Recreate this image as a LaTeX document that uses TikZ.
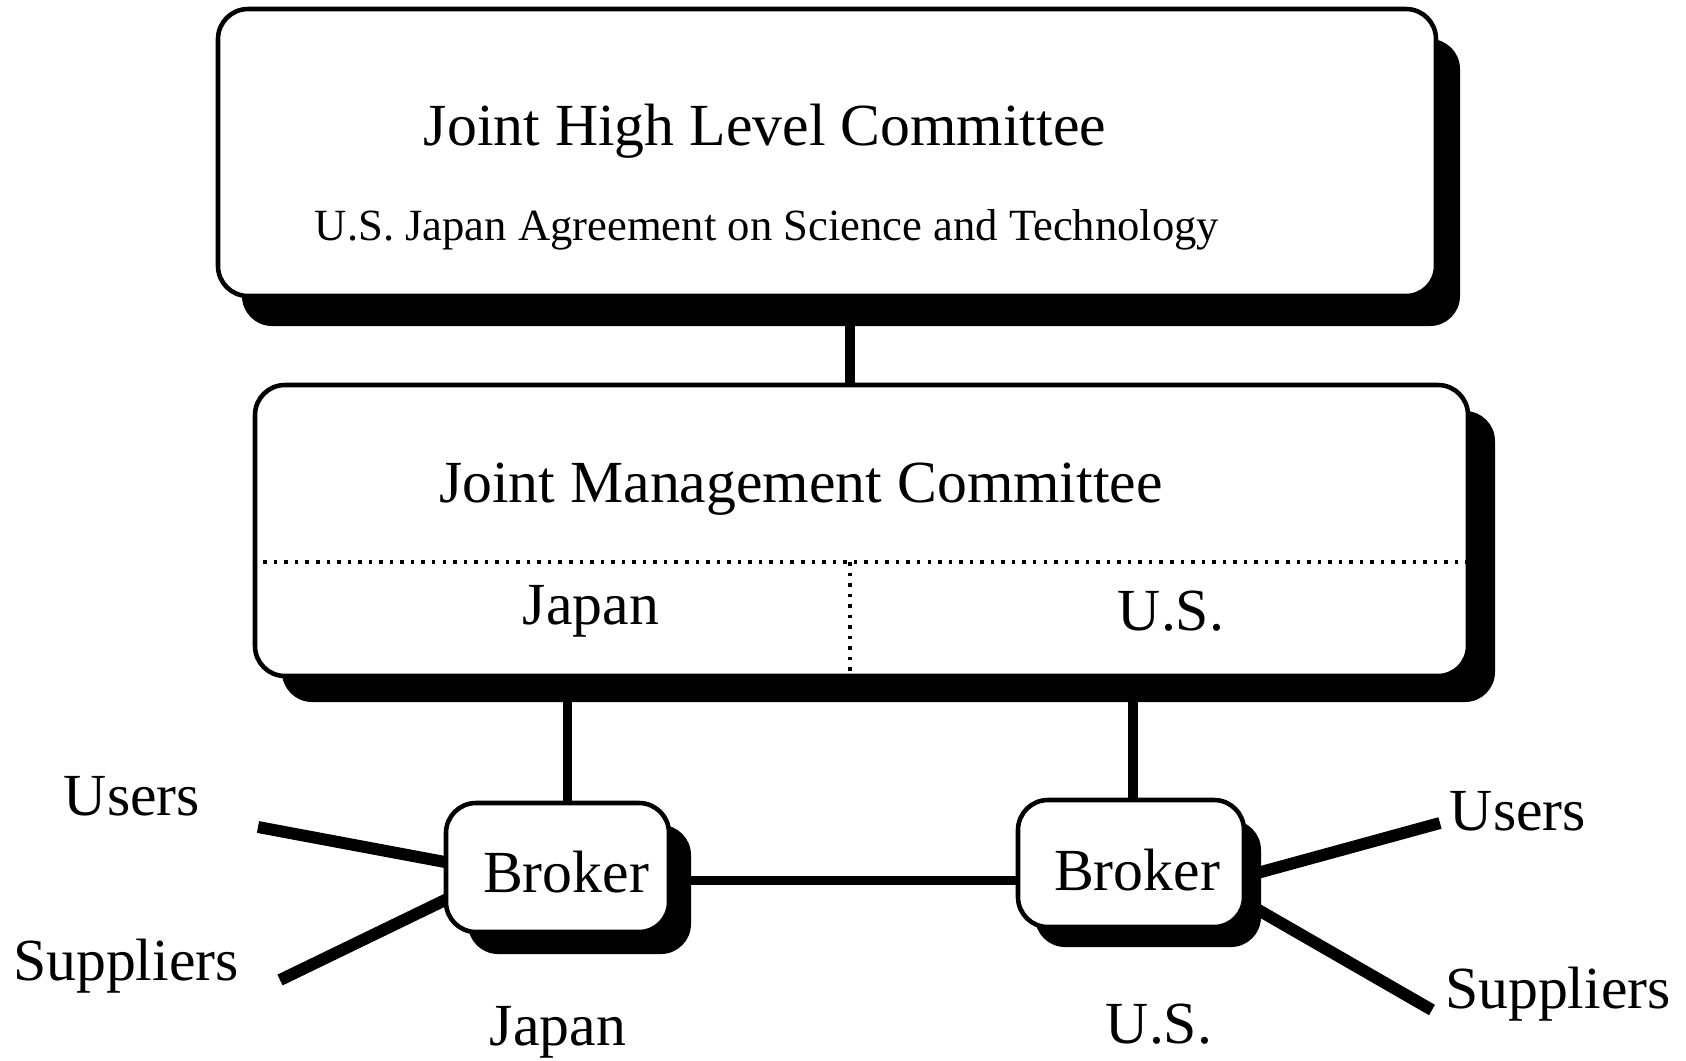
\documentclass[tikz,border=0pt]{standalone}
\usepackage{fontspec}
\setmainfont{Liberation Serif}
\usetikzlibrary{shadows,backgrounds}
\begin{document}
\begin{tikzpicture}[x=0.1mm,y=-0.1mm,
  box/.style={draw=black, line width=1.3pt, fill=white, rounded corners=3mm, inner sep=0pt},
  lbl/.style={anchor=base, inner sep=0pt, font=\fontsize{17pt}{20pt}\selectfont},
  conn/.style={line width=2.6pt},
  link/.style={line width=2.8pt},
  spoke/.style={line width=3.4pt},
  divider/.style={dotted, line width=1pt}
]
\useasboundingbox (0,0) rectangle (1686,1060);

% top box
\node[box, minimum width=121.8mm, minimum height=28.7mm,
  drop shadow={shadow xshift=2.4mm, shadow yshift=-3.0mm, fill=black, opacity=1}] (jhlc) at (827,152.5) {};
\node[lbl] (t1) at (765,145) {Joint High Level Committee};
\node[lbl, font=\fontsize{12.7pt}{15pt}\selectfont] (t2) at (767,240) {U.S. Japan Agreement on Science and Technology};

% middle box
\node[box, minimum width=121.3mm, minimum height=29.1mm,
  drop shadow={shadow xshift=2.7mm, shadow yshift=-2.6mm, fill=black, opacity=1}] (jmc) at (861.5,530.5) {};
\node[lbl] (t3) at (801,502) {Joint Management Committee};
\node[lbl] (t4) at (591,624) {Japan};
\node[lbl] (t5) at (1171,630) {U.S.};
\coordinate (dv) at (850,562);
\draw[divider] (jmc.west |- dv) -- (jmc.east |- dv);
\draw[divider] (dv) -- (dv |- jmc.south);

% brokers
\node[box, minimum width=22.3mm, minimum height=12.9mm,
  drop shadow={shadow xshift=2.2mm, shadow yshift=-2.2mm, fill=black, opacity=1}] (lb) at (557.5,867.5) {};
\node[box, minimum width=22.6mm, minimum height=12.7mm,
  drop shadow={shadow xshift=1.7mm, shadow yshift=-2.0mm, fill=black, opacity=1}] (rb) at (1131,863.5) {};
\node[lbl] (lbt) at (566,892) {Broker};
\node[lbl] (rbt) at (1137,890) {Broker};

% connectors
\draw[conn] ([xshift=2.3mm]jhlc.south) -- ([xshift=2.3mm]jhlc.south |- jmc.north);
\draw[conn] ([xshift=1mm]lb.north) -- ([xshift=1mm]lb.north |- jmc.south);
\draw[conn] ([xshift=0.2mm]rb.north) -- ([xshift=0.2mm]rb.north |- jmc.south);
\draw[link] ([yshift=-1.3mm]lb.east) -- ([yshift=-1.3mm]lb.east -| rb.west);

% spokes
\coordinate (ul) at (258,827);
\coordinate (sl) at (280,980);
\coordinate (ur) at (1440,823);
\coordinate (sr) at (1432,1010);
\begin{pgfonlayer}{background}
\draw[spoke] (ul) -- ([xshift=2mm,yshift=0.2mm]lb.west);
\draw[spoke] (sl) -- ([xshift=2mm,yshift=-2.35mm]lb.west);
\draw[spoke] ([xshift=-2mm,yshift=-1.8mm]rb.east) -- (ur);
\draw[spoke] ([xshift=-2mm,yshift=-2.8mm]rb.east) -- (sr);
\end{pgfonlayer}

% outer labels
\node[lbl] (ulab) at (132,815) {Users};
\node[lbl] (slab) at (126,980) {Suppliers};
\node[lbl] (jlab) at (558,1045) {Japan};
\node[lbl] (urlab) at (1518,830) {Users};
\node[lbl] (srlab) at (1558,1008) {Suppliers};
\node[lbl] (uslab) at (1159,1043) {U.S.};
\end{tikzpicture}
\end{document}
